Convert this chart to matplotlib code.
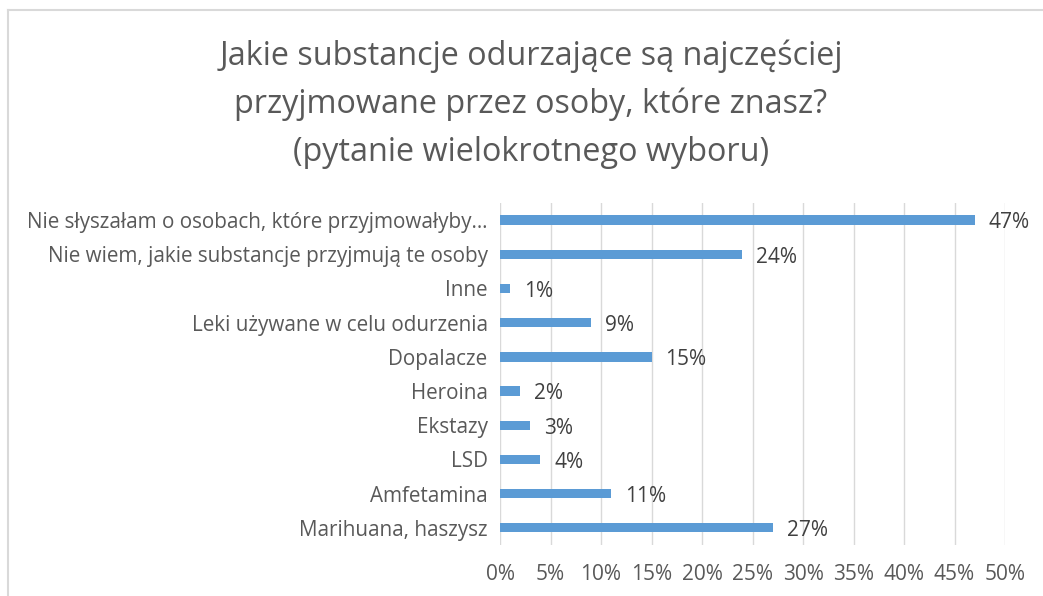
import matplotlib
matplotlib.use('Agg')
import matplotlib.pyplot as plt
from matplotlib.lines import Line2D
from matplotlib.ticker import FuncFormatter

# Categories listed bottom to top, as the chart draws them
CATEGORIES = [
    'Marihuana, haszysz',
    'Amfetamina',
    'LSD',
    'Ekstazy',
    'Heroina',
    'Dopalacze',
    'Leki używane w celu odurzenia',
    'Inne',
    'Nie wiem, jakie substancje przyjmują te osoby',
    'Nie słyszałam o osobach, które przyjmowałyby…',
]
VALUES = [27, 11, 4, 3, 2, 15, 9, 1, 24, 47]
X_TICKS = [0, 5, 10, 15, 20, 25, 30, 35, 40, 45, 50]

TITLE = ('Jakie substancje odurzające są najczęściej\n'
         'przyjmowane przez osoby, które znasz?\n'
         '(pytanie wielokrotnego wyboru)')

BAR_COLOR = '#5B9BD5'
GRID_COLOR = '#D9D9D9'
TEXT_COLOR = '#595959'
LABEL_COLOR = '#404040'

plt.rcParams['font.family'] = ['Open Sans', 'DejaVu Sans']


def main():
    fig = plt.figure(figsize=(10.43, 5.96), dpi=100)
    ax = fig.add_axes([0.4794, 0.0856, 0.4842, 0.5738])

    positions = list(range(len(CATEGORIES)))
    ax.barh(positions, VALUES, height=0.27, color=BAR_COLOR, zorder=3)

    # Data labels to the right of every bar
    for pos, val in zip(positions, VALUES):
        ax.annotate(f'{val}%', xy=(val, pos), xytext=(10, -2),
                    textcoords='offset points', va='center', ha='left',
                    fontsize=15, color=LABEL_COLOR)

    ax.set_xlim(0, 50)
    ax.set_ylim(-0.5, len(CATEGORIES) - 0.5)
    ax.set_xticks(X_TICKS)
    ax.xaxis.set_major_formatter(FuncFormatter(lambda v, _: f'{v:.0f}%'))
    ax.set_yticks(positions)
    ax.set_yticklabels(CATEGORIES)

    ax.tick_params(axis='y', length=0, pad=9, labelsize=14.9, labelcolor=TEXT_COLOR)
    ax.tick_params(axis='x', length=0, pad=14, labelsize=15, labelcolor=TEXT_COLOR)

    ax.grid(axis='x', color=GRID_COLOR, linewidth=1.0, zorder=0)
    for spine in ax.spines.values():
        spine.set_visible(False)

    fig.text(0.509, 0.825, TITLE, ha='center', va='center', fontsize=23.3,
             color=TEXT_COLOR, linespacing=1.57)

    # Chart area border (only top and left edges are visible in the crop)
    fig.add_artist(Line2D([0.0072, 1.0], [0.9832, 0.9832], transform=fig.transFigure,
                          color=GRID_COLOR, linewidth=1.5))
    fig.add_artist(Line2D([0.0072, 0.0072], [0.0, 0.9832], transform=fig.transFigure,
                          color=GRID_COLOR, linewidth=1.5))

    fig.savefig('out.png', dpi=100)
    plt.close(fig)


if __name__ == '__main__':
    main()
